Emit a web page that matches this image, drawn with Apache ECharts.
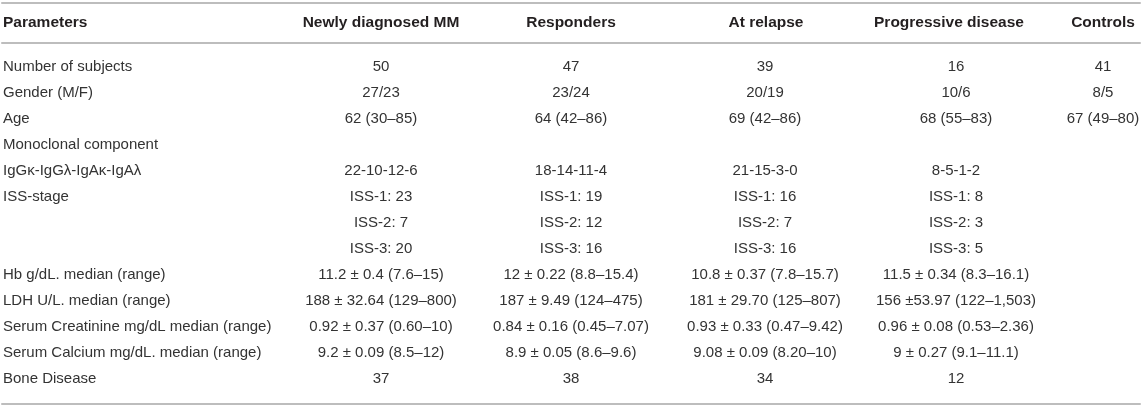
<!DOCTYPE html>
<html>
<head>
<meta charset="utf-8">
<script src="https://cdn.jsdelivr.net/npm/echarts@6/dist/echarts.min.js"></script>
<style>
  html, body { margin: 0; padding: 0; background: #fff; }
  #chart { width: 1143px; height: 408px; }
</style>
</head>
<body>
<div id="chart"></div>
<script>
// table content
const columns = ['Parameters', 'Newly diagnosed MM', 'Responders', 'At relapse', 'Progressive disease', 'Controls'];
const parameters = ['Number of subjects', 'Gender (M/F)', 'Age', 'Monoclonal component', 'IgGκ-IgGλ-IgAκ-IgAλ', 'ISS-stage', '', '',
  'Hb g/dL. median (range)', 'LDH U/L. median (range)', 'Serum Creatinine mg/dL median (range)', 'Serum Calcium mg/dL. median (range)', 'Bone Disease'];
const newlyDiagnosed = ['50', '27/23', '62 (30–85)', '', '22-10-12-6', 'ISS-1: 23', 'ISS-2: 7', 'ISS-3: 20',
  '11.2 ± 0.4 (7.6–15)', '188 ± 32.64 (129–800)', '0.92 ± 0.37 (0.60–10)', '9.2 ± 0.09 (8.5–12)', '37'];
const responders = ['47', '23/24', '64 (42–86)', '', '18-14-11-4', 'ISS-1: 19', 'ISS-2: 12', 'ISS-3: 16',
  '12 ± 0.22 (8.8–15.4)', '187 ± 9.49 (124–475)', '0.84 ± 0.16 (0.45–7.07)', '8.9 ± 0.05 (8.6–9.6)', '38'];
const atRelapse = ['39', '20/19', '69 (42–86)', '', '21-15-3-0', 'ISS-1: 16', 'ISS-2: 7', 'ISS-3: 16',
  '10.8 ± 0.37 (7.8–15.7)', '181 ± 29.70 (125–807)', '0.93 ± 0.33 (0.47–9.42)', '9.08 ± 0.09 (8.20–10)', '34'];
const progressive = ['16', '10/6', '68 (55–83)', '', '8-5-1-2', 'ISS-1: 8', 'ISS-2: 3', 'ISS-3: 5',
  '11.5 ± 0.34 (8.3–16.1)', '156 ±53.97 (122–1,503)', '0.96 ± 0.08 (0.53–2.36)', '9 ± 0.27 (9.1–11.1)', '12'];
const controls = ['41', '8/5', '67 (49–80)', '', '', '', '', '', '', '', '', '', ''];

// layout: column anchors on the x axis (px inside the grid)
const headerX = [1, 379, 569, 764, 947, 1101];
const cellX = [1, 379, 569, 763, 954, 1101];

const FONT = '"Liberation Sans", Arial, Helvetica, sans-serif';
const LINE = { show: true, onZero: false, lineStyle: { color: '#bdbdbd', width: 2 } };

const bodyCols = [parameters, newlyDiagnosed, responders, atRelapse, progressive, controls];
const rowIds = parameters.map((p, i) => 'r' + i);

const headerCells = columns.map((c, i) => ({ x: headerX[i], row: 0, text: c, left: i === 0 }));
const bodyCells = [];
bodyCols.forEach((col, ci) => {
  col.forEach((txt, ri) => {
    if (txt) bodyCells.push({ x: cellX[ci], row: ri, text: txt, left: ci === 0 });
  });
});

function textRenderer(cells, bold) {
  return function (params, api) {
    const cell = cells[params.dataIndex];
    const p = api.coord([api.value(0), api.value(1)]);
    return {
      type: 'text',
      x: p[0],
      y: p[1],
      style: {
        text: cell.text,
        fill: bold ? '#231f20' : '#333333',
        fontSize: bold ? 15.5 : 15,
        fontWeight: bold ? 'bold' : 'normal',
        fontFamily: FONT,
        align: cell.left ? 'left' : 'center',
        verticalAlign: 'middle'
      }
    };
  };
}

function hiddenX(gridIndex, position, extra) {
  return Object.assign({
    type: 'value', gridIndex: gridIndex, position: position, min: 0, max: 1138,
    axisLine: LINE, axisTick: { show: false }, axisLabel: { show: false }, splitLine: { show: false }
  }, extra || {});
}

const chart = echarts.init(document.getElementById('chart'));
chart.setOption({
  animation: false,
  grid: [
    { left: 2, right: 3, top: 3, height: 40 },
    { left: 2, right: 3, top: 54, height: 338 }
  ],
  xAxis: [
    hiddenX(0, 'top'),
    hiddenX(0, 'bottom'),
    hiddenX(1, 'bottom', { offset: 12 })
  ],
  yAxis: [
    { type: 'category', gridIndex: 0, data: ['header'], show: false },
    { type: 'category', gridIndex: 1, data: rowIds, inverse: true, show: false }
  ],
  series: [
    {
      type: 'custom', xAxisIndex: 0, yAxisIndex: 0,
      data: headerCells.map(c => [c.x, c.row]),
      renderItem: textRenderer(headerCells, true)
    },
    {
      type: 'custom', xAxisIndex: 2, yAxisIndex: 1,
      data: bodyCells.map(c => [c.x, c.row]),
      renderItem: textRenderer(bodyCells, false)
    }
  ]
});
</script>
</body>
</html>
